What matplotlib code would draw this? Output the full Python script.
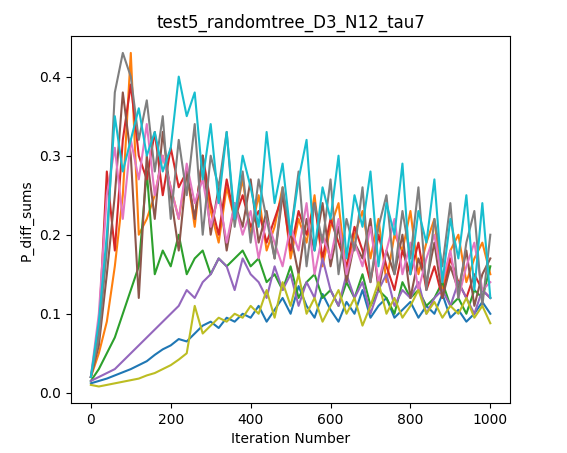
import numpy as np
import matplotlib
matplotlib.use("Agg")
import matplotlib.pyplot as plt

# iteration numbers, sampled every 20
iters = list(range(0, 1001, 20))

blue = [0.012, 0.015, 0.018, 0.022, 0.026, 0.030, 0.035, 0.040, 0.048, 0.055,
        0.060, 0.068, 0.065, 0.075, 0.085, 0.090, 0.082, 0.095, 0.090, 0.100,
        0.095, 0.110, 0.090, 0.105, 0.120, 0.100, 0.135, 0.110, 0.095, 0.125,
        0.105, 0.090, 0.115, 0.100, 0.130, 0.095, 0.110, 0.120, 0.095, 0.105,
        0.115, 0.095, 0.110, 0.100, 0.125, 0.095, 0.105, 0.090, 0.100, 0.115, 0.100]
orange = [0.02, 0.05, 0.09, 0.16, 0.25, 0.43, 0.20, 0.22, 0.25, 0.30,
          0.26, 0.22, 0.28, 0.21, 0.30, 0.23, 0.19, 0.26, 0.22, 0.27,
          0.20, 0.25, 0.18, 0.21, 0.26, 0.17, 0.22, 0.19, 0.25, 0.16,
          0.21, 0.24, 0.15, 0.20, 0.23, 0.17, 0.22, 0.14, 0.20, 0.18,
          0.23, 0.15, 0.19, 0.22, 0.13, 0.18, 0.20, 0.14, 0.17, 0.19, 0.15]
green = [0.015, 0.03, 0.05, 0.07, 0.10, 0.13, 0.16, 0.28, 0.15, 0.18,
         0.16, 0.20, 0.15, 0.17, 0.18, 0.15, 0.17, 0.16, 0.17, 0.18,
         0.16, 0.17, 0.14, 0.15, 0.13, 0.16, 0.12, 0.14, 0.15, 0.12,
         0.13, 0.11, 0.14, 0.12, 0.15, 0.11, 0.13, 0.12, 0.10, 0.14,
         0.12, 0.13, 0.11, 0.12, 0.14, 0.11, 0.12, 0.10, 0.13, 0.12, 0.16]
red = [0.02, 0.08, 0.28, 0.18, 0.32, 0.39, 0.30, 0.27, 0.33, 0.25,
       0.31, 0.26, 0.28, 0.22, 0.30, 0.24, 0.20, 0.27, 0.22, 0.25,
       0.21, 0.23, 0.19, 0.22, 0.25, 0.18, 0.23, 0.20, 0.24, 0.17,
       0.22, 0.19, 0.16, 0.21, 0.18, 0.14, 0.20, 0.16, 0.13, 0.18,
       0.15, 0.19, 0.13, 0.16, 0.12, 0.17, 0.14, 0.12, 0.15, 0.13, 0.12]
purple = [0.015, 0.02, 0.025, 0.03, 0.04, 0.05, 0.06, 0.07, 0.08, 0.09,
          0.10, 0.11, 0.13, 0.12, 0.14, 0.15, 0.17, 0.16, 0.13, 0.17,
          0.15, 0.14, 0.12, 0.16, 0.13, 0.15, 0.11, 0.14, 0.12, 0.17,
          0.13, 0.11, 0.15, 0.12, 0.14, 0.10, 0.13, 0.15, 0.11, 0.13,
          0.12, 0.14, 0.10, 0.12, 0.13, 0.11, 0.14, 0.12, 0.10, 0.13, 0.12]
brown = [0.02, 0.06, 0.15, 0.25, 0.38, 0.30, 0.12, 0.30, 0.22, 0.33,
         0.25, 0.18, 0.28, 0.22, 0.30, 0.20, 0.26, 0.18, 0.24, 0.21,
         0.27, 0.19, 0.23, 0.17, 0.25, 0.20, 0.15, 0.22, 0.18, 0.24,
         0.16, 0.21, 0.14, 0.19, 0.17, 0.22, 0.13, 0.18, 0.15, 0.20,
         0.12, 0.17, 0.14, 0.19, 0.12, 0.16, 0.13, 0.18, 0.11, 0.15, 0.17]
pink = [0.02, 0.10, 0.25, 0.31, 0.22, 0.32, 0.27, 0.34, 0.25, 0.30,
        0.26, 0.22, 0.29, 0.24, 0.27, 0.21, 0.25, 0.19, 0.24, 0.20,
        0.23, 0.17, 0.22, 0.19, 0.16, 0.21, 0.18, 0.24, 0.15, 0.20,
        0.17, 0.22, 0.15, 0.19, 0.16, 0.21, 0.14, 0.18, 0.22, 0.15,
        0.19, 0.13, 0.17, 0.20, 0.14, 0.18, 0.12, 0.16, 0.19, 0.13, 0.14]
gray = [0.02, 0.07, 0.18, 0.38, 0.43, 0.40, 0.32, 0.37, 0.28, 0.35,
        0.22, 0.32, 0.25, 0.34, 0.20, 0.30, 0.26, 0.33, 0.21, 0.28,
        0.19, 0.27, 0.22, 0.17, 0.26, 0.20, 0.28, 0.16, 0.24, 0.19,
        0.27, 0.15, 0.22, 0.18, 0.26, 0.14, 0.21, 0.25, 0.15, 0.23,
        0.17, 0.26, 0.13, 0.22, 0.16, 0.24, 0.12, 0.19, 0.23, 0.11, 0.20]
olive = [0.010, 0.008, 0.010, 0.012, 0.014, 0.016, 0.018, 0.022, 0.025, 0.030,
         0.035, 0.042, 0.050, 0.110, 0.075, 0.085, 0.095, 0.090, 0.100, 0.095,
         0.110, 0.100, 0.130, 0.095, 0.140, 0.110, 0.150, 0.100, 0.120, 0.090,
         0.110, 0.130, 0.100, 0.120, 0.085, 0.110, 0.140, 0.100, 0.120, 0.095,
         0.110, 0.130, 0.100, 0.115, 0.095, 0.110, 0.100, 0.120, 0.095, 0.110, 0.088]
cyan = [0.02, 0.09, 0.20, 0.35, 0.28, 0.32, 0.36, 0.30, 0.33, 0.28,
        0.31, 0.40, 0.35, 0.38, 0.27, 0.34, 0.24, 0.33, 0.22, 0.30,
        0.26, 0.21, 0.33, 0.24, 0.29, 0.20, 0.27, 0.32, 0.18, 0.26,
        0.22, 0.30, 0.17, 0.25, 0.21, 0.28, 0.16, 0.24, 0.20, 0.29,
        0.15, 0.23, 0.19, 0.27, 0.14, 0.22, 0.17, 0.25, 0.13, 0.24, 0.12]

series = [blue, orange, green, red, purple, brown, pink, gray, olive, cyan]

fig, ax = plt.subplots(figsize=(5.67, 4.53), dpi=100)
for s in series:
    ax.plot(iters, s)
ax.set_title("test5_randomtree_D3_N12_tau7")
ax.set_xlabel("Iteration Number")
ax.set_ylabel("P_diff_sums")
fig.subplots_adjust(left=0.125, right=0.9, top=0.92, bottom=0.11)
fig.savefig("out.png")
